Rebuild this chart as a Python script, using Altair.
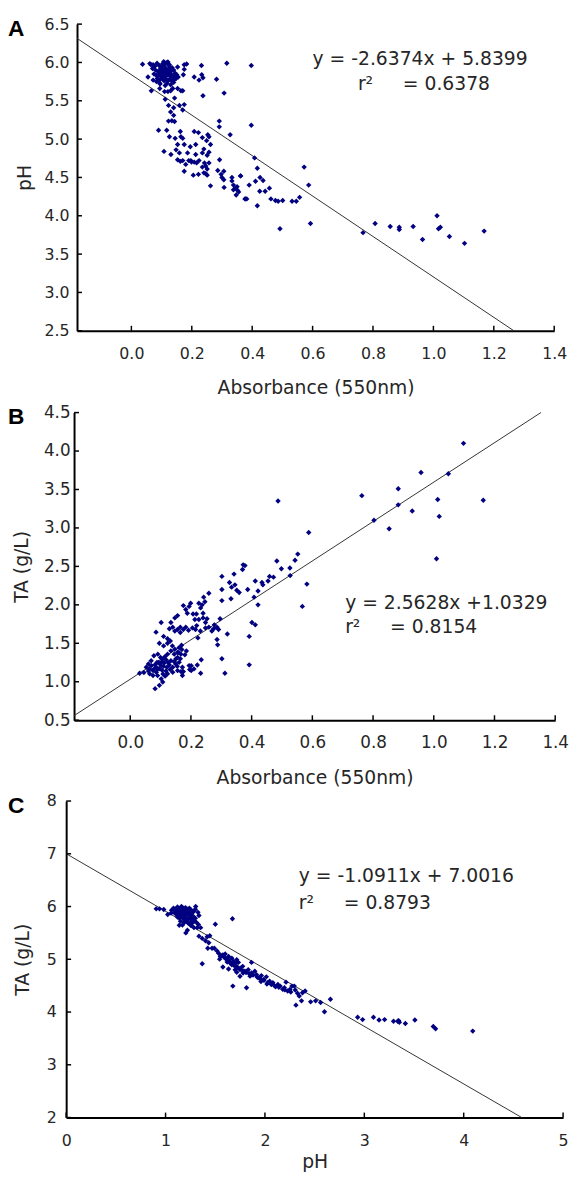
import altair as alt
import pandas as pd

FONT = "DejaVu Sans"
PT_COLOR = "#000080"
TXT = "#262626"

# ---------------- Panel A : pH vs absorbance ----------------
A_abs_1 = [0.397,0.397,0.408,0.417,0.362,0.350,0.352,0.378,0.390,0.411,
           0.426,0.436,0.425,0.443,0.457,0.417,0.462,0.477,0.486,0.501,
           0.492,0.532,0.546,0.557,0.572,0.587,0.593,0.767,0.807,0.857,
           0.887,0.887,0.933,0.964,1.012,1.017,1.023,1.053,1.103,1.168]
A_ph_1 = [5.96,5.18,4.755,4.62,4.52,4.38,4.33,4.22,4.40,4.45,
          4.50,4.46,4.32,4.32,4.36,4.13,4.22,4.20,4.19,4.20,
          3.83,4.19,4.19,4.24,4.635,4.40,3.90,3.78,3.90,3.86,
          3.85,3.82,3.86,3.69,4.00,3.83,3.85,3.73,3.64,3.80]
A_abs_2 = [0.037,0.061,0.072,0.121,0.153,0.175,0.183,0.232,0.316,0.175,
           0.172,0.208,0.224,0.233,0.237,0.282,0.307,0.237,0.055,0.072,
           0.083,0.094,0.140,0.066,0.094,0.110,0.121,0.130,0.137,0.153,
           0.164,0.170,0.112,0.143,0.123,0.140,0.159,0.175,0.170,0.130,
           0.140,0.123,0.134,0.143,0.291,0.291,0.090,0.117,0.162,0.208,
           0.222,0.126,0.145,0.164,0.170,0.235,0.253,0.257,0.249,0.327,
           0.153,0.175,0.195,0.213,0.240,0.262,0.148,0.159,0.108,0.131,
           0.186,0.213,0.235,0.251,0.257,0.292,0.153,0.170,0.197,0.208,
           0.224,0.242]
A_ph_2 = [5.977,5.985,5.97,6.007,5.94,5.97,5.98,5.96,5.99,5.91,
          5.84,5.81,5.77,5.84,5.80,5.78,5.60,5.565,5.81,5.77,
          5.75,5.73,5.74,5.63,5.66,5.62,5.62,5.63,5.66,5.66,
          5.63,5.63,5.52,5.535,5.44,5.41,5.44,5.45,5.38,5.355,
          5.31,5.235,5.24,5.23,5.235,5.16,5.115,5.115,5.10,5.10,
          5.085,5.03,5.01,5.03,5.01,5.02,5.056,5.03,4.98,5.056,
          4.93,4.93,4.90,4.93,4.87,4.93,4.86,4.82,4.84,4.80,
          4.82,4.80,4.82,4.79,4.83,4.73,4.73,4.72,4.72,4.70,
          4.72,4.69]
A_abs_3 = [0.162,0.180,0.175,0.190,0.199,0.216,0.205,0.222,0.235,0.246,
           0.251,0.257,0.246,0.251,0.240,0.262,0.286,0.297,0.300,0.306,
           0.306,0.307,0.333,0.333,0.338,0.344,0.338,0.355,0.347,0.361,
           0.376,0.382]
A_ph_3 = [4.71,4.67,4.58,4.72,4.70,4.69,4.53,4.54,4.635,4.65,
          4.61,4.69,4.55,4.53,4.56,4.39,4.59,4.54,4.50,4.47,
          4.58,4.37,4.50,4.455,4.40,4.36,4.34,4.31,4.27,4.52,
          4.22,4.22]
A_abs_4 = [0.065,0.078,0.085,0.092,0.098,0.103,0.108,0.113,0.118,0.122,
           0.127,0.070,0.080,0.088,0.095,0.100,0.105,0.110,0.115,0.120,
           0.125,0.130,0.135,0.140,0.145,0.075,0.083,0.090,0.097,0.104,
           0.111,0.117,0.123,0.128,0.133,0.138,0.143,0.150,0.086,0.093,
           0.101,0.108,0.115,0.121,0.127,0.134,0.141,0.148,0.155,0.095,
           0.112,0.118,0.130,0.102,0.096,0.112,0.126,0.107]
A_ph_4 = [5.97,5.95,5.99,5.96,5.93,5.98,5.95,5.99,6.00,5.97,
          5.94,5.92,5.90,5.88,5.91,5.87,5.90,5.86,5.92,5.89,
          5.91,5.88,5.93,5.90,5.86,5.85,5.83,5.84,5.82,5.84,
          5.81,5.83,5.85,5.82,5.84,5.80,5.82,5.84,5.79,5.77,
          5.79,5.76,5.78,5.76,5.78,5.76,5.77,5.79,5.81,5.72,
          5.70,5.73,5.71,5.95,5.86,5.87,5.97,6.01]
A_fit = (-2.6374, 5.8399)
A_fit_x = [-0.18, 1.2663]
A_eq = ["y = -2.6374x + 5.8399", "r\u00b2\u00a0\u00a0\u00a0\u00a0\u00a0= 0.6378"]
A_eq_x = [0.600, 0.750]
A_eq_y = [6.05, 5.715]
A_xticks = [0.0, 0.2, 0.4, 0.6, 0.8, 1.0, 1.2, 1.4]
A_yticks = [2.5, 3.0, 3.5, 4.0, 4.5, 5.0, 5.5, 6.0, 6.5]

# ---------------- Panel B : TA vs absorbance ----------------
B_abs_1 = [1.098,0.958,1.048,0.763,0.883,0.883,0.929,1.013,1.163,1.018,
           0.803,0.853,1.009,0.487,0.588,0.552,0.543,0.527,0.498,0.483,
           0.582,0.567,0.526,0.372]
B_ta_1 = [4.10,3.72,3.705,3.42,3.51,3.30,3.22,3.37,3.36,3.15,
          3.10,2.99,2.60,3.35,2.94,2.66,2.58,2.38,2.47,2.57,
          2.27,1.98,2.48,2.52]
B_abs_2 = [0.378,0.370,0.342,0.302,0.412,0.434,0.437,0.454,0.459,0.472,
           0.327,0.334,0.345,0.351,0.359,0.387,0.302,0.302,0.332,0.421,
           0.408,0.421,0.401,0.412,0.392,0.392,0.302,0.312,0.320,0.296,
           0.286,0.291,0.286,0.288,0.259,0.242,0.246,0.237,0.232,0.240,
           0.226,0.199,0.194,0.183,0.175,0.188,0.207,0.218,0.213,0.226,
           0.240,0.253,0.248,0.156,0.147,0.134,0.102,0.085,0.096,0.110,
           0.123,0.129,0.140,0.147,0.156,0.165,0.165,0.175,0.183,0.192,
           0.205,0.215,0.219,0.223,0.231,0.248,0.259,0.269,0.275,0.277]
B_ta_2 = [2.51,2.46,2.40,2.37,2.31,2.29,2.26,2.31,2.37,2.36,
          2.29,2.23,2.26,2.19,2.16,2.20,2.20,2.055,2.08,2.18,
          2.10,2.00,1.77,1.74,1.59,1.22,1.30,1.11,1.62,1.82,
          1.71,1.68,1.55,1.48,2.15,2.10,2.04,2.00,1.96,1.89,
          2.02,2.02,1.98,1.94,1.99,1.89,1.88,1.88,1.81,1.81,
          1.83,1.82,1.77,1.86,1.83,1.77,1.77,1.645,1.50,1.59,
          1.56,1.69,1.71,1.66,1.68,1.71,1.64,1.68,1.71,1.67,
          1.70,1.68,1.73,1.57,1.66,1.70,1.71,1.66,1.69,1.74]
B_abs_3 = [0.110,0.123,0.132,0.139,0.147,0.156,0.161,0.169,0.167,0.156,
           0.145,0.134,0.123,0.115,0.107,0.100,0.091,0.078,0.069,0.060,
           0.053,0.031,0.064,0.075,0.086,0.091,0.102,0.112,0.121,0.129,
           0.140,0.150,0.156,0.161,0.172,0.175,0.172,0.167,0.140,0.123,
           0.115,0.102,0.107,0.096,0.082,0.075,0.064,0.082,0.093,0.104,
           0.118,0.134,0.150,0.201,0.210,0.221,0.234,0.232,0.201]
B_ta_3 = [1.466,1.50,1.53,1.466,1.423,1.38,1.444,1.474,1.359,1.316,
          1.359,1.402,1.359,1.329,1.295,1.316,1.359,1.338,1.274,1.231,
          1.188,1.111,1.167,1.145,1.124,1.167,1.209,1.244,1.188,1.218,
          1.188,1.231,1.145,1.252,1.188,1.132,1.081,1.132,1.124,1.103,
          1.073,1.038,0.996,0.953,0.910,1.081,1.103,1.218,1.252,1.261,
          1.286,1.274,1.295,1.209,1.167,1.218,1.286,1.111,1.145]
B_abs_4 = [0.085,0.095,0.105,0.110,0.098,0.088,0.077,0.118,0.125,0.132,
           0.145,0.155,0.165,0.108,0.090,0.070,0.060,0.045,0.180,0.185,
           0.170,0.160,0.194,0.196,0.172]
B_ta_4 = [1.19,1.17,1.15,1.20,1.23,1.25,1.16,1.14,1.25,1.16,
          1.26,1.20,1.30,1.10,1.08,1.21,1.14,1.12,1.35,1.40,
          1.42,1.38,1.21,1.16,1.13]
B_fit = (2.5628, 1.0329)
B_fit_x = [-0.185, 1.353]
B_eq = ["y = 2.5628x +1.0329", "r\u00b2\u00a0\u00a0\u00a0\u00a0\u00a0= 0.8154"]
B_eq_x = [0.708, 0.708]
B_eq_y = [2.026, 1.705]
B_xticks = [0.0, 0.2, 0.4, 0.6, 0.8, 1.0, 1.2, 1.4]
B_yticks = [0.5, 1.0, 1.5, 2.0, 2.5, 3.0, 3.5, 4.0, 4.5]

# ---------------- Panel C : pH (y) vs TA (x) ----------------
C_x_1 = [0.906,0.939,0.982,1.022,1.055,1.303,1.326,1.336,1.501,1.673,
         1.138,1.204,1.220,1.253,1.286,1.319,1.353,1.336,1.369,1.419,
         1.445,1.402,1.435,1.425,1.468,1.491,1.369,1.518]
C_y_1 = [5.956,5.956,5.944,5.850,5.875,6.00,5.89,5.83,5.663,5.77,
         5.645,5.50,5.55,5.645,5.60,5.60,5.60,5.439,5.396,5.427,
         5.445,5.352,5.315,5.209,5.209,5.209,4.916,5.159]
C_x_2 = [1.534,1.551,1.577,1.600,1.544,1.617,1.634,1.667,1.683,1.700,
         1.716,1.733,1.577,1.634,1.667,1.716,1.749,1.776,1.799,1.832,
         1.865,1.865,1.898,1.915,1.716,1.749,1.677,1.815]
C_y_2 = [5.115,5.053,5.084,5.022,5.003,4.991,5.053,5.022,4.959,4.916,
         4.991,4.941,4.853,4.816,4.897,4.835,4.804,4.866,4.772,4.804,
         4.941,4.741,4.772,4.71,4.754,4.679,4.492,4.461]
C_x_3 = [1.931,1.964,1.987,2.014,2.047,2.064,2.080,2.107,2.130,2.153,
         2.179,2.196,2.212,2.229,2.252,2.272,2.295,2.305,2.328,2.345,
         2.378,2.404,2.368,2.312,2.460,2.510,2.560,2.599,2.659]
C_y_3 = [4.648,4.691,4.617,4.667,4.586,4.523,4.555,4.48,4.523,4.492,
         4.43,4.461,4.567,4.399,4.43,4.492,4.492,4.417,4.355,4.305,
         4.367,4.399,4.212,4.131,4.193,4.212,4.181,4.006,4.243]
C_x_4 = [2.933,2.983,3.092,3.148,3.204,3.294,3.336,3.353,3.345,3.413,
         3.509,3.694,3.717,4.091]
C_y_4 = [3.90,3.857,3.90,3.85,3.857,3.826,3.826,3.807,3.838,3.782,
         3.85,3.726,3.682,3.639]
C_x_5 = [1.08,1.10,1.12,1.14,1.16,1.18,1.20,1.22,1.24,1.10,
         1.12,1.14,1.16,1.18,1.20,1.22,1.24,1.26,1.28,1.11,
         1.13,1.15,1.17,1.19,1.21,1.23,1.25,1.27,1.12,1.14,
         1.16,1.18,1.20,1.22,1.24,1.26,1.28,1.30,1.15,1.19,
         1.21,1.23,1.25,1.27,1.29,1.31,1.17,1.26,1.33,1.06,
         1.09,1.30]
C_y_5 = [5.97,5.95,5.99,5.96,6.00,5.97,5.98,5.95,5.97,5.90,
         5.92,5.89,5.93,5.90,5.92,5.88,5.91,5.93,5.90,5.85,
         5.87,5.84,5.86,5.83,5.86,5.84,5.86,5.83,5.80,5.78,
         5.81,5.77,5.79,5.76,5.79,5.77,5.80,5.78,5.72,5.70,
         5.73,5.68,5.71,5.69,5.73,5.70,5.65,5.64,5.66,5.93,
         5.88,5.95]
C_x_6 = [1.56,1.59,1.62,1.65,1.69,1.72,1.75,1.78,1.81,1.84,
         1.88,1.92,1.95,1.99,2.03,2.09,2.14,2.20,2.26,1.60,
         1.64,1.70,1.78,1.85,1.96,2.02]
C_y_6 = [5.07,5.04,4.95,4.93,4.88,4.86,4.83,4.78,4.75,4.73,
         4.70,4.67,4.64,4.60,4.56,4.51,4.47,4.42,4.38,5.10,
         4.98,4.80,4.74,4.68,4.58,4.53]
C_fit = (-1.0911, 7.0016)
C_fit_x = [0.0, 4.5843]
C_eq = ["y = -1.0911x + 7.0016", "r\u00b2\u00a0\u00a0\u00a0\u00a0\u00a0= 0.8793"]
C_eq_x = [2.341, 2.341]
C_eq_y = [6.58, 6.075]
C_xticks = [0, 1, 2, 3, 4, 5]
C_yticks = [2, 3, 4, 5, 6, 7, 8]


def panel(letter, xs, ys, fit, fit_x, eq, eq_x, eq_y, xdom, ydom, xticks, yticks,
          xfmt, yfmt, xtitle, ytitle, w, h, shift, lab_fs, ylab_pad, ytitle_pad,
          xlab_pad, xtitle_pad):
    # every panel's group shares the same left origin in the column; the plot
    # area of a panel starts `shift` px to the right of it
    xsc = alt.Scale(domain=xdom, nice=False, zero=False, range=[shift, shift + w])
    ysc = alt.Scale(domain=ydom, nice=False, zero=False)
    common = dict(ticks=False, grid=False, domainColor="black", domainWidth=2,
                  labelFont=FONT, labelFontSize=lab_fs, labelColor=TXT,
                  labelFlush=False, labelOverlap=False,
                  titleFont=FONT, titleFontSize=19, titleFontWeight="normal",
                  titleColor=TXT)
    xax = alt.Axis(values=xticks, format=xfmt, title=xtitle, labelPadding=xlab_pad,
                   titlePadding=xtitle_pad, **common)
    yax = alt.Axis(values=yticks, format=yfmt, title=ytitle, labelPadding=ylab_pad,
                   titlePadding=ytitle_pad, offset=-shift, **common)

    def X():
        return alt.X("x:Q", scale=xsc, axis=xax)

    def Y():
        return alt.Y("y:Q", scale=ysc, axis=yax)

    m, b = fit
    pts = pd.DataFrame({"x": xs, "y": ys})
    fit_df = pd.DataFrame({"x": fit_x, "y": [m * v + b for v in fit_x]})
    xt_df = pd.DataFrame({"x": xticks})
    yt_df = pd.DataFrame({"y": yticks})
    eq_df = pd.DataFrame({"x": eq_x, "y": eq_y, "t": eq})
    lab_df = pd.DataFrame({"t": [letter]})

    line = alt.Chart(fit_df).mark_line(color="#333333", strokeWidth=1).encode(x=X(), y=Y())
    points = alt.Chart(pts).mark_point(shape="diamond", filled=True, size=30,
                                       color=PT_COLOR, opacity=1).encode(x=X(), y=Y())
    xt = alt.Chart(xt_df).mark_rule(color="black", strokeWidth=1.5).encode(
        x=X(), y=alt.value(h), y2=alt.value(h - 5))
    yt = alt.Chart(yt_df).mark_rule(color="black", strokeWidth=1.5).encode(
        y=Y(), x=alt.value(shift), x2=alt.value(shift + 5))
    txt = alt.Chart(eq_df).mark_text(align="left", baseline="middle", font=FONT,
                                     fontSize=19, color=TXT).encode(
        x=X(), y=Y(), text="t:N")
    lab = alt.Chart(lab_df).mark_text(align="left", baseline="alphabetic",
                                      font="Liberation Sans", fontWeight="bold",
                                      fontSize=23, color="black").encode(
        x=alt.value(-59), y=alt.value(12), text="t:N")
    return alt.layer(line, points, xt, yt, txt, lab).properties(width=shift + w, height=h)


pA = panel("A", A_abs_1 + A_abs_2 + A_abs_3 + A_abs_4, A_ph_1 + A_ph_2 + A_ph_3 + A_ph_4,
           A_fit, A_fit_x, A_eq, A_eq_x, A_eq_y, [-0.18, 1.4], [2.5, 6.5],
           A_xticks, A_yticks, ".1f", ".1f", "Absorbance (550nm)", "pH",
           484, 311, 11, 16, 8, 10, 15, 18)
pB = panel("B", B_abs_1 + B_abs_2 + B_abs_3 + B_abs_4, B_ta_1 + B_ta_2 + B_ta_3 + B_ta_4,
           B_fit, B_fit_x, B_eq, B_eq_x, B_eq_y, [-0.185, 1.4], [0.5, 4.5],
           B_xticks, B_yticks, ".1f", ".1f", "Absorbance (550nm)", "TA (g/L)",
           488, 312, 8, 17, 4, 12, 15, 18)
pC = panel("C", C_x_1 + C_x_2 + C_x_3 + C_x_4 + C_x_5 + C_x_6,
           C_y_1 + C_y_2 + C_y_3 + C_y_4 + C_y_5 + C_y_6,
           C_fit, C_fit_x, C_eq, C_eq_x, C_eq_y, [0, 5], [2, 8],
           C_xticks, C_yticks, "d", "d", "pH", "TA (g/L)",
           504, 321, 0, 16, 10, 14, 15, 5)

chart = alt.vconcat(pA, pB, pC, spacing=6).properties(
    padding={"left": 0, "right": 0, "top": 0, "bottom": 0}
).configure_view(strokeWidth=0)

chart.save("out.html", embed_options={"renderer": "svg", "actions": False})
